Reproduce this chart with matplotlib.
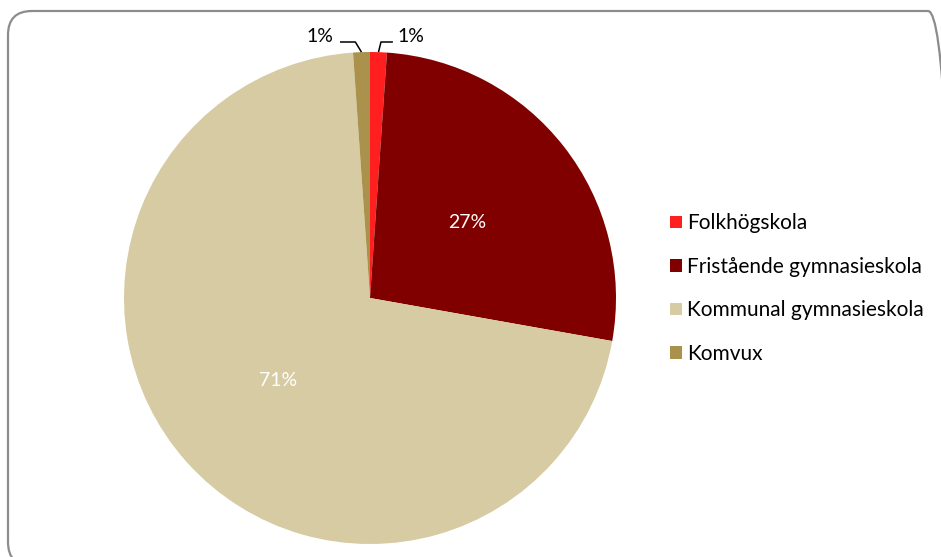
import matplotlib
matplotlib.use("Agg")
import numpy as np
import matplotlib.pyplot as plt
from matplotlib.patches import FancyBboxPatch, Patch
from matplotlib.transforms import IdentityTransform

# share of students per school form (percent)
schools = ["Folkhögskola", "Fristående gymnasieskola", "Kommunal gymnasieskola", "Komvux"]
shares = [1.1, 26.7, 71.1, 1.1]
labels = ["1%", "27%", "71%", "1%"]
colors = ["#FF1F1F", "#800000", "#D6CBA2", "#AA924C"]

FONT = ["Lato", "DejaVu Sans"]

W, H = 941, 557
CX, CY, R = 370, 298, 246  # pie centre and radius in pixels


def main():
    fig = plt.figure(figsize=(W / 100, H / 100), dpi=100)
    fig.patch.set_facecolor("white")

    # rounded chart border in pixels, partly outside the canvas
    frame = FancyBboxPatch(
        (8, -9), 944, 557 - 11 + 9,
        boxstyle="round,pad=0,rounding_size=24",
        transform=IdentityTransform(), facecolor="none",
        edgecolor="#8c8c8c", linewidth=1.6,
    )
    fig.patches.append(frame)

    ax = fig.add_axes([0, 0, 1, 1])
    wedges, _ = ax.pie(
        shares, colors=colors, startangle=90, counterclock=False,
        radius=1, center=(0, 0), wedgeprops=dict(linewidth=0),
        frame=True,
    )
    ax.set_xlim(-CX / R, (W - CX) / R)
    ax.set_ylim(-(H - CY) / R, CY / R)
    ax.set_aspect("auto")
    ax.axis("off")

    # inner labels
    for i in (1, 2):
        w = wedges[i]
        mid = np.deg2rad((w.theta1 + w.theta2) / 2)
        ax.text(0.5 * np.cos(mid), 0.5 * np.sin(mid), labels[i],
                color="white", ha="center", va="center",
                fontsize=14, family=FONT)

    # outer labels with leader lines for the thin slices
    elbow_y = (CY - 42) / R
    for i, end_x, text_x in ((0, 0.093, 0.167), (3, -0.122, -0.203)):
        w = wedges[i]
        mid = np.deg2rad((w.theta1 + w.theta2) / 2)
        x0, y0 = np.cos(mid), np.sin(mid)
        x1 = x0 + (0.01 if i == 0 else -0.025)
        ax.plot([x0, x1, end_x], [y0, elbow_y, elbow_y],
                color="black", lw=1.1, solid_capstyle="butt")
        ax.text(text_x, (CY - 37) / R, labels[i], ha="center", va="center",
                fontsize=14, family=FONT, color="black")

    handles = [Patch(facecolor=c, edgecolor="none") for c in colors]
    fig.legend(
        handles, schools, loc="upper left",
        bbox_to_anchor=(660 / W, 1 - 203 / H), frameon=False,
        prop=dict(family=FONT, size=15),
        handlelength=0.55, handleheight=0.55, handletextpad=0.25,
        labelspacing=1.13, borderpad=0,
    )

    fig.savefig("out.png", dpi=100, facecolor="white")
    plt.close(fig)


if __name__ == "__main__":
    main()
